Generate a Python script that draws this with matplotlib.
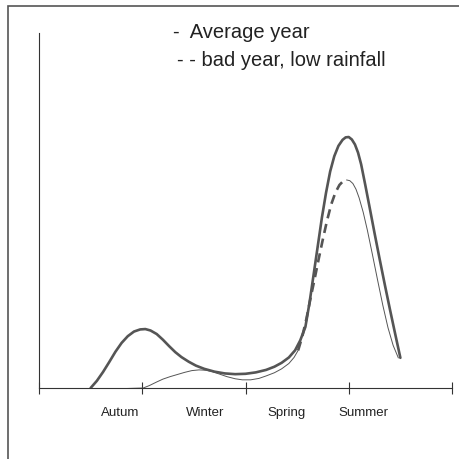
import matplotlib
matplotlib.use('Agg')
import matplotlib.pyplot as plt
from matplotlib.patches import Rectangle

plt.rcParams['font.family'] = ['Liberation Sans', 'DejaVu Sans']

seasons = ['Autum', 'Winter', 'Spring', 'Summer']
season_label_x = [0.785, 1.61, 2.40, 3.14]

# average year (thick solid)
avg_x = [0.50, 0.56, 0.62, 0.68, 0.74, 0.80, 0.86, 0.92, 0.98, 1.03, 1.08,
         1.14, 1.20, 1.26, 1.32, 1.38, 1.45, 1.52, 1.60, 1.70, 1.80, 1.90,
         2.00, 2.10, 2.20, 2.28, 2.35, 2.42, 2.48, 2.53, 2.58, 2.62, 2.66,
         2.70, 2.74, 2.78, 2.82, 2.86, 2.90, 2.94, 2.97, 3.00, 3.03, 3.06,
         3.09, 3.12, 3.16, 3.20, 3.25, 3.30, 3.35, 3.40, 3.45, 3.50]
avg_y = [0.0, 2.0, 4.5, 7.3, 10.2, 12.7, 14.6, 15.9, 16.5, 16.6, 16.2,
         15.2, 13.6, 11.8, 10.1, 8.7, 7.4, 6.3, 5.4, 4.6, 4.1, 3.9,
         4.0, 4.4, 5.1, 6.0, 7.1, 8.6, 10.6, 13.4, 17.2, 24.0, 32.0,
         40.0, 48.0, 55.0, 61.0, 65.3, 68.2, 69.9, 70.6, 70.7, 70.0, 68.6,
         66.3, 63.0, 57.2, 51.2, 43.6, 36.2, 29.0, 22.0, 15.2, 8.5]

# bad year, low rainfall: thin before the rise
bad_x = [0.50, 0.78, 1.01, 1.07, 1.14, 1.20, 1.27, 1.34, 1.41, 1.48, 1.55,
         1.62, 1.68, 1.75, 1.82, 1.90, 1.97, 2.05, 2.13, 2.20, 2.28, 2.35,
         2.42, 2.47, 2.51]
bad_y = [-0.2, -0.2, 0.0, 0.7, 1.7, 2.5, 3.2, 3.8, 4.4, 4.9, 5.1,
         5.0, 4.6, 3.9, 3.2, 2.6, 2.3, 2.3, 2.7, 3.4, 4.3, 5.4,
         6.9, 8.6, 10.6]
# dashed rise
bad_rise_x = [2.51, 2.55, 2.59, 2.63, 2.67, 2.71, 2.75, 2.79, 2.83, 2.87,
              2.91, 2.95, 2.98]
bad_rise_y = [10.6, 14.5, 19.5, 25.3, 30.8, 36.5, 42.0, 47.2, 51.7, 55.0,
              57.2, 58.4, 58.6]
# thin fall
bad_fall_x = [2.98, 3.01, 3.04, 3.07, 3.10, 3.14, 3.18, 3.23, 3.28, 3.33,
              3.38, 3.43, 3.48]
bad_fall_y = [58.6, 58.4, 57.6, 56.0, 53.6, 49.5, 44.5, 37.5, 30.3, 23.3,
              17.0, 12.0, 8.5]

fig = plt.figure(figsize=(4.59, 4.59), dpi=100)
ax = fig.add_axes([39 / 459, 1 - 388 / 459, 413 / 459, 355 / 459])

line_col = '#555555'
ax.plot(avg_x, avg_y, color=line_col, lw=1.9, solid_joinstyle='round',
        solid_capstyle='round')
ax.plot(bad_x, bad_y, color=line_col, lw=0.7)
ax.plot(bad_rise_x, bad_rise_y, color=line_col, lw=1.9, dashes=(3.5, 2.2))
ax.plot(bad_fall_x, bad_fall_y, color=line_col, lw=0.7)

ax.set_xlim(0, 4)
ax.set_ylim(0, 100)
for s in ['top', 'right']:
    ax.spines[s].set_visible(False)
for s in ['left', 'bottom']:
    ax.spines[s].set_color('#333333')
    ax.spines[s].set_linewidth(0.8)
ax.set_xticks([0, 1, 2, 3, 4])
ax.set_xticklabels([])
ax.tick_params(axis='x', direction='inout', length=9, width=0.8, color='#333333')
ax.set_yticks([])
ax.patch.set_alpha(0)

for lab, lx in zip(seasons, season_label_x):
    ax.text(lx, -7.1, lab, ha='center', va='center', fontsize=9.5,
            color='#222222', clip_on=False)

fig.text(173 / 459, 1 - 32 / 459, '-  Average year', ha='left', va='center',
         fontsize=14.5, color='#222222')
fig.text(177 / 459, 1 - 61 / 459, '- - bad year, low rainfall', ha='left',
         va='center', fontsize=14.5, color='#222222')

fig.add_artist(Rectangle((8 / 459, -0.1), 1.2, 1 - 6 / 459 + 0.1, fill=False,
                         edgecolor='#555555', lw=1.2, transform=fig.transFigure))

fig.savefig('out.png', dpi=100)
